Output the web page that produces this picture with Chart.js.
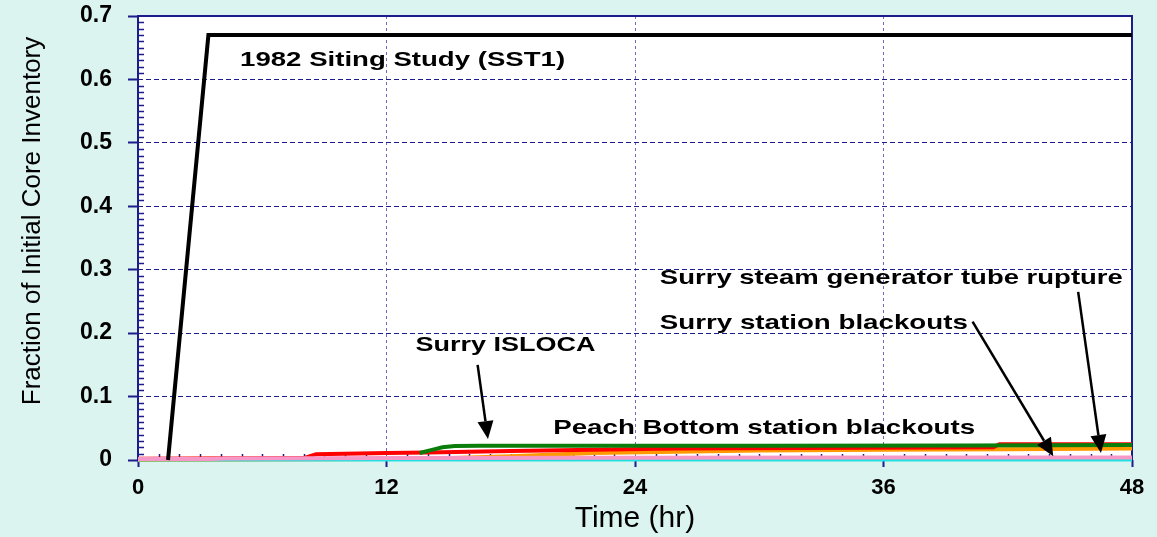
<!DOCTYPE html>
<html>
<head>
<meta charset="utf-8">
<script src="https://cdn.jsdelivr.net/npm/chart.js@4/dist/chart.umd.min.js"></script>
<style>
  body { margin: 0; background: #dcf4f0; }
  #wrap { width: 1157px; height: 537px; }
</style>
</head>
<body>
<div id="wrap"><canvas id="myChart" width="1157" height="537"></canvas></div>
<script>
// hours after accident
const timeSST1 = [1.45, 3.4, 48]
const fracSST1 = [0, 0.67, 0.67]

const timeIsloca = [13.6, 14.2, 14.7, 15.3, 16.5, 20, 30, 40, 48]
const fracIsloca = [0.011, 0.016, 0.02, 0.022, 0.0225, 0.0225, 0.0225, 0.0228, 0.0235]

const timeRed = [0, 8, 8.6, 12, 14, 18, 22, 26, 32, 41.3, 41.6, 48]
const fracRed = [0.002, 0.003, 0.009, 0.011, 0.012, 0.014, 0.016, 0.018, 0.019, 0.02, 0.025, 0.025]

const timeOrange = [0, 14, 18, 22, 26, 30, 36, 42, 48]
const fracOrange = [0, 0.002, 0.006, 0.011, 0.013, 0.015, 0.016, 0.017, 0.018]

const timePink = [0, 3.5, 4.2, 12, 24, 36, 48]
const fracPink = [0.0015, 0.0015, 0.0025, 0.003, 0.0035, 0.004, 0.004]

const timeCyan = [0, 48]
const fracCyan = [0, 0]

const xTicks = [0, 12, 24, 36, 48]
const yTicks = [0, 0.1, 0.2, 0.3, 0.4, 0.5, 0.6, 0.7]

// annotation labels: text, x (hr), y (fraction)
const noteTexts = ['1982 Siting Study (SST1)', 'Surry steam generator tube rupture', 'Surry station blackouts', 'Surry ISLOCA', 'Peach Bottom station blackouts']
const noteX = [4.93, 25.2, 25.2, 13.4, 20.05]
const noteY = [0.631, 0.287, 0.216, 0.181, 0.050]
const noteWidth = [325, 463, 308, 180, 422]

// arrows: from (x0,y0) to (x1,y1)
const arrowX0 = [16.4, 40.3, 45.4]
const arrowY0 = [0.150, 0.218, 0.265]
const arrowX1 = [16.9, 44.2, 46.5]
const arrowY1 = [0.033, 0.006, 0.011]

const yTitle = 'Fraction of Initial Core Inventory'
const NAVY = '#1c1c8a'

const pts = (xs, ys) => xs.map((x, i) => ({ x: x, y: ys[i] }))

const mkSet = (label, xs, ys, color, width) => ({
    label: label,
    data: pts(xs, ys),
    borderColor: color,
    backgroundColor: color,
    borderWidth: width,
    pointRadius: 0,
    tension: 0,
    clip: 6,
})

const bgPlugin = {
    id: 'bg',
    beforeDraw: (chart) => {
        const ctx = chart.ctx
        const a = chart.chartArea
        ctx.save()
        ctx.fillStyle = '#dcf4f0'
        ctx.fillRect(0, 0, chart.width, chart.height)
        ctx.fillStyle = '#ffffff'
        ctx.fillRect(a.left, a.top, a.right - a.left, a.bottom - a.top)
        // y axis title
        ctx.translate(33, 221)
        ctx.rotate(-Math.PI / 2)
        ctx.fillStyle = '#000'
        ctx.font = '26px "Liberation Sans", Arial, sans-serif'
        ctx.textAlign = 'center'
        ctx.textBaseline = 'middle'
        ctx.fillText(yTitle, 0, 0)
        ctx.restore()
    },
    beforeDatasetsDraw: (chart) => {
        // minor ticks, inward
        const ctx = chart.ctx
        const a = chart.chartArea
        const xs = chart.scales.x
        const ys = chart.scales.y
        ctx.save()
        ctx.strokeStyle = NAVY
        ctx.lineWidth = 1.5
        ctx.beginPath()
        for (let i = 1; i < 70; i++) {
            if (i % 10 === 0) continue
            const py = Math.round(ys.getPixelForValue(i / 100)) + 0.5
            ctx.moveTo(a.left, py)
            ctx.lineTo(a.left + 6, py)
        }
        for (let h = 1; h < 48; h++) {
            if (h % 12 === 0) continue
            const px = Math.round(xs.getPixelForValue(h)) + 0.5
            ctx.moveTo(px, a.bottom)
            ctx.lineTo(px, a.bottom - 6)
        }
        ctx.stroke()
        ctx.lineWidth = 2
        ctx.strokeRect(a.left, a.top, a.right - a.left, a.bottom - a.top)
        ctx.restore()
    },
    afterDatasetsDraw: (chart) => {
        const ctx = chart.ctx
        const xs = chart.scales.x
        const ys = chart.scales.y
        ctx.save()
        ctx.fillStyle = '#000'
        ctx.font = 'bold 21px "Liberation Sans", Arial, sans-serif'
        ctx.textBaseline = 'middle'
        noteTexts.forEach((t, i) => {
            const px = xs.getPixelForValue(noteX[i])
            const py = ys.getPixelForValue(noteY[i])
            const w = ctx.measureText(t).width
            ctx.save()
            ctx.translate(px, py)
            ctx.scale(noteWidth[i] / w, 1)
            ctx.fillText(t, 0, 0)
            ctx.restore()
        })
        ctx.strokeStyle = '#000'
        ctx.lineWidth = 2.5
        arrowX0.forEach((x0, i) => {
            const ax = xs.getPixelForValue(x0)
            const ay = ys.getPixelForValue(arrowY0[i])
            const bx = xs.getPixelForValue(arrowX1[i])
            const by = ys.getPixelForValue(arrowY1[i])
            const ang = Math.atan2(by - ay, bx - ax)
            const len = 18
            const half = 8
            const cx = bx - len * Math.cos(ang)
            const cy = by - len * Math.sin(ang)
            ctx.beginPath()
            ctx.moveTo(ax, ay)
            ctx.lineTo(cx, cy)
            ctx.stroke()
            ctx.beginPath()
            ctx.moveTo(bx, by)
            ctx.lineTo(cx + half * Math.sin(ang), cy - half * Math.cos(ang))
            ctx.lineTo(cx - half * Math.sin(ang), cy + half * Math.cos(ang))
            ctx.closePath()
            ctx.fill()
        })
        ctx.restore()
    }
}

const ctx = document.getElementById('myChart')

// first dataset is drawn on top
const cfg = {
    type: 'line',
    data: {
        datasets: [
            mkSet('1982 Siting Study (SST1)', timeSST1, fracSST1, '#000000', 4),
            mkSet('Peach Bottom station blackouts', timePink, fracPink, '#f598c8', 4),
            mkSet('Other', timeCyan, fracCyan, '#22e0e0', 3),
            mkSet('Surry ISLOCA', timeIsloca, fracIsloca, '#0a7d0a', 4),
            mkSet('Surry steam generator tube rupture', timeRed, fracRed, '#ff0000', 4),
            mkSet('Surry station blackouts', timeOrange, fracOrange, '#ff9900', 4),
        ],
    },
    options: {
        responsive: false,
        animation: false,
        events: [],
        layout: { padding: { top: 16, right: 25, left: 0, bottom: 0 } },
        plugins: {
            legend: { display: false },
            tooltip: { enabled: false },
        },
        scales: {
            x: {
                type: 'linear',
                min: xTicks[0],
                max: xTicks[xTicks.length - 1],
                afterFit: (s) => { s.height = 77; s.paddingLeft = 0; s.paddingRight = 0 },
                afterBuildTicks: (s) => { s.ticks = xTicks.map(v => ({ value: v })) },
                ticks: {
                    color: '#000',
                    padding: 8,
                    font: { family: '"Liberation Sans", Arial', size: 22, weight: 'bold' },
                },
                grid: {
                    color: '#6b6bc4',
                    lineWidth: 1,
                    tickLength: 7,
                    tickColor: NAVY,
                    tickWidth: 2,
                    tickBorderDash: [],
                },
                border: { display: false, dash: [3, 3] },
                title: {
                    display: true,
                    text: 'Time (hr)',
                    color: '#000',
                    padding: { top: 0, bottom: 0 },
                    font: { family: '"Liberation Sans", Arial', size: 30 },
                },
            },
            y: {
                min: yTicks[0],
                max: yTicks[yTicks.length - 1],
                afterFit: (s) => { s.width = 138; s.paddingTop = 0; s.paddingBottom = 0 },
                afterBuildTicks: (s) => { s.ticks = yTicks.map(v => ({ value: v })) },
                ticks: {
                    color: '#000',
                    padding: 16,
                    callback: (v) => v === 0 ? '0' : v.toFixed(1),
                    font: { family: '"Liberation Sans", Arial', size: 23, weight: 'bold' },
                },
                grid: {
                    color: NAVY,
                    lineWidth: 1,
                    tickLength: 10,
                    tickColor: NAVY,
                    tickWidth: 2,
                    tickBorderDash: [],
                },
                border: { display: false, dash: [5, 3] },
            },
        },
    },
    plugins: [bgPlugin],
}

const myChart = new Chart(ctx, cfg)
</script>
</body>
</html>
